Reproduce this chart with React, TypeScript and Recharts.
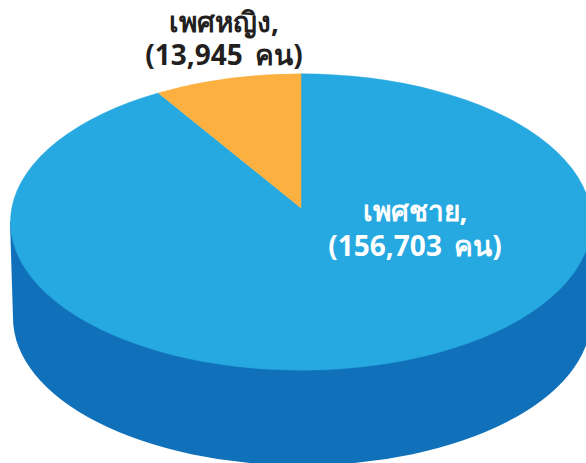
import { Pie, PieChart } from "recharts";

const categories = ["เพศชาย", "เพศหญิง"];
const counts = [156703, 13945];
const sliceColors = ["#26A9E0", "#FBB040"];
const countLabels = ["(156,703 คน)", "(13,945 คน)"];
const labelColors = ["#FFFFFF", "#231F20"];
const wallColor = "#1071BA";

const FONT = '"Noto Sans", "Open Sans", sans-serif';
const SQUASH = 0.51; // top of the disc seen at an angle
const APEX_LIFT = 14;
const DEPTH = 96;

const data = categories.map((name, i) => ({ name, value: counts[i], fill: sliceColors[i] }));
const wallData = [{ name: "wall", value: counts[0] + counts[1], fill: wallColor }];

// Pie hands us angles from the data, we only flatten the circle into an ellipse
function FlatSector(props: any) {
  const { cx, cy, outerRadius: r, startAngle, endAngle, fill } = props;
  const ry = r * SQUASH;
  const pt = (deg: number) => {
    const a = (deg * Math.PI) / 180;
    return `${cx + r * Math.cos(a)} ${cy - ry * Math.sin(a)}`;
  };
  const large = Math.abs(endAngle - startAngle) > 180 ? 1 : 0;
  const d = `M ${cx} ${cy - APEX_LIFT} L ${pt(startAngle)} A ${r} ${ry} 0 ${large} 1 ${pt(endAngle)} Z`;
  return <path d={d} fill={fill} stroke={fill} strokeWidth={0.5} />;
}

// Side of the disc: bottom half of a lower ellipse, joined up to the top ellipse
function DiscWall(props: any) {
  const { cx, cy, outerRadius: r, fill } = props;
  const ry = r * SQUASH;
  const d = `M ${cx - r - 3} ${cy - DEPTH} L ${cx - r} ${cy} A ${r} ${ry} 0 0 0 ${cx + r} ${cy} L ${cx + r} ${cy - DEPTH} Z`;
  return <path d={d} fill={fill} />;
}

// Two-line labels, set by hand like the original artwork
function SliceLabel({ index }: any) {
  const x = index === 0 ? 415 : 224;
  const y = index === 0 ? 221 : 32;
  const gap = index === 0 ? 35 : 33;
  return (
    <g fontFamily={FONT} fontWeight={700} fontSize={28} textAnchor="middle" fill={labelColors[index]}>
      <text x={x} y={y}>{categories[index]},</text>
      <text x={x} y={y + gap} wordSpacing={5}>{countLabels[index]}</text>
    </g>
  );
}

export default function App() {
  return (
    <div style={{ position: "absolute", left: 0, top: 0, width: 586, height: 463, overflow: "hidden", background: "#fff" }}>
      <PieChart width={586} height={463} margin={{ top: 0, right: 0, bottom: 0, left: 0 }}>
        <Pie
          data={wallData}
          dataKey="value"
          cx={302}
          cy={318}
          outerRadius={289}
          startAngle={90}
          endAngle={-270}
          stroke="none"
          shape={DiscWall}
          isAnimationActive={false}
        />
        <Pie
          data={data}
          dataKey="value"
          cx={301}
          cy={222}
          outerRadius={290.5}
          startAngle={90}
          endAngle={-270}
          stroke="none"
          shape={FlatSector}
          label={SliceLabel}
          labelLine={false}
          isAnimationActive={false}
        />
      </PieChart>
    </div>
  );
}
